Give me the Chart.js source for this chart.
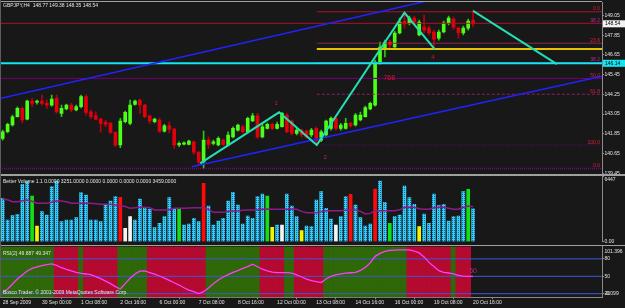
<!DOCTYPE html>
<html>
<head>
<meta charset="utf-8">
<title>GBPJPY,H4</title>
<script src="https://cdn.jsdelivr.net/npm/chart.js@4.4.1/dist/chart.umd.min.js"></script>
<style>
  html, body { margin: 0; padding: 0; background: #181818; }
  body { position: relative; width: 625px; height: 308px; overflow: hidden; }
  canvas { position: absolute; left: 0; }
  .rule { position: absolute; background: #a0a0a0; }
</style>
</head>
<body>
<canvas id="prices" width="625" height="174" style="top:0"></canvas>
<canvas id="volume" width="625" height="68" style="top:176px"></canvas>
<canvas id="rsi" width="625" height="62" style="top:246px"></canvas>
<div class="rule" style="left:0;top:0.5px;width:602px;height:1px"></div>
<div class="rule" style="left:0;top:174px;width:625px;height:1.5px"></div>
<div class="rule" style="left:0;top:244.6px;width:625px;height:1.6px"></div>
<div class="rule" style="left:0;top:0;width:1px;height:297px;background:#5c5c5c"></div>
<script>
// ---- data ----
const timeLabels = ["28 Sep 2009", "30 Sep 00:00", "1 Oct 08:00", "2 Oct 16:00", "6 Oct 00:00", "7 Oct 08:00",
    "8 Oct 16:00", "12 Oct 00:00", "13 Oct 08:00", "14 Oct 16:00", "16 Oct 00:00", "19 Oct 08:00", "20 Oct 16:00"];
const timeTickBars = [0, 8, 16, 24, 32, 40, 48, 56, 64, 72, 80, 88, 96];
const priceTicks = [139.45, 140.65, 141.85, 143.05, 144.25, 145.45, 146.65, 147.85, 149.05];

const opens = [141.58, 141.98, 142.39, 142.89, 143.40, 142.75, 143.84, 143.77, 143.84, 143.70,
    143.60, 144.01, 143.10, 143.36, 143.60, 143.30, 143.50, 144.11, 143.19, 142.95,
    142.75, 142.55, 142.49, 141.94, 141.17, 142.59, 142.49, 143.64, 143.91, 143.60,
    142.95, 142.59, 142.69, 142.02, 142.34, 142.14, 141.17, 141.23, 141.21, 141.37,
    140.73, 140.15, 141.47, 141.27, 141.17, 141.47, 141.17, 141.67, 142.08, 142.28,
    141.98, 142.63, 142.95, 141.67, 142.18, 142.43, 142.18, 142.28, 142.99, 142.63,
    141.88, 142.08, 142.02, 141.78, 142.18, 141.47, 141.78, 142.18, 142.79, 142.18,
    142.18, 142.49, 142.39, 142.69, 142.89, 143.36, 143.60, 146.22, 147.07, 147.43,
    147.13, 147.98, 148.71, 148.59, 148.89, 147.86, 148.34, 148.28, 148.04, 147.67,
    148.04, 148.59, 148.83, 148.28, 147.98, 148.28, 148.77];
const highs = [142.08, 142.51, 142.99, 143.50, 143.48, 143.91, 144.01, 143.91, 144.21, 143.91,
    144.21, 144.21, 143.60, 143.66, 143.70, 143.60, 144.21, 144.21, 143.30, 143.19,
    142.79, 142.69, 142.57, 141.98, 142.79, 143.24, 143.91, 143.91, 143.97, 143.64,
    142.99, 142.81, 142.79, 142.43, 142.57, 142.18, 141.37, 141.37, 141.47, 141.41,
    140.80, 142.02, 141.67, 141.47, 141.67, 141.53, 141.98, 142.28, 142.45, 142.39,
    142.87, 143.10, 143.10, 142.49, 142.51, 142.51, 142.57, 143.16, 143.08, 142.69,
    142.18, 142.14, 142.08, 142.18, 142.28, 142.08, 142.69, 142.89, 142.87, 142.49,
    142.79, 142.57, 143.10, 143.18, 143.54, 143.78, 146.34, 147.43, 147.55, 147.55,
    148.10, 148.89, 149.21, 149.01, 149.01, 148.77, 149.07, 148.40, 148.16, 148.16,
    148.71, 149.01, 148.95, 148.34, 148.40, 148.83, 149.38];
const lows = [141.47, 141.90, 142.32, 142.87, 142.51, 142.69, 143.50, 143.66, 143.60, 143.40,
    143.54, 143.11, 142.89, 143.30, 143.19, 143.24, 143.42, 142.99, 142.79, 142.69,
    141.96, 142.28, 141.88, 141.07, 141.01, 142.51, 142.39, 143.60, 143.10, 142.83,
    142.49, 142.51, 141.94, 141.96, 141.90, 140.97, 141.07, 141.17, 141.17, 140.60,
    139.95, 139.77, 140.97, 141.17, 141.11, 141.14, 141.11, 141.61, 142.02, 141.88,
    141.90, 142.59, 141.58, 141.61, 142.14, 142.11, 142.14, 142.26, 141.90, 141.78,
    141.78, 141.67, 141.59, 141.67, 141.17, 141.37, 141.67, 142.08, 142.08, 142.08,
    142.14, 142.26, 142.32, 142.63, 142.87, 143.30, 143.54, 146.09, 146.52, 147.07,
    147.07, 147.92, 148.28, 148.47, 148.53, 147.80, 147.98, 147.86, 147.01, 147.55,
    147.98, 148.47, 148.22, 147.67, 147.86, 148.16, 148.35];
const closes = [141.98, 142.43, 142.89, 143.40, 142.69, 143.84, 143.70, 143.84, 143.70, 143.60,
    143.97, 143.19, 143.40, 143.60, 143.30, 143.50, 144.11, 143.16, 142.89, 142.75,
    142.49, 142.43, 141.94, 141.17, 142.63, 143.16, 143.60, 143.84, 143.60, 142.89,
    142.63, 142.75, 142.02, 142.34, 142.14, 141.17, 141.27, 141.31, 141.41, 140.73,
    140.15, 141.47, 141.21, 141.37, 141.58, 141.21, 141.78, 142.18, 142.39, 141.98,
    142.79, 142.95, 141.67, 142.28, 142.43, 142.18, 142.43, 143.10, 141.98, 141.88,
    142.08, 141.78, 141.67, 142.08, 141.47, 141.98, 142.63, 142.79, 142.18, 142.39,
    142.49, 142.34, 142.99, 142.99, 143.44, 143.70, 146.22, 147.13, 147.43, 147.25,
    147.98, 148.65, 148.53, 148.89, 148.65, 148.65, 148.16, 147.98, 147.61, 148.04,
    148.59, 148.89, 148.34, 147.98, 148.28, 148.71, 148.54];

// objects drawn on the price window (bar index, price)
const zigzagBar = [40.3, 56.4, 64.1, 82.0, 88.2];
const zigzagPrice = [140.06, 143.16, 141.17, 149.21, 146.99];
const projectionBar = [96.0, 113.1];
const projectionPrice = [149.33, 146.09];
const channelUpperBar = [-0.55, 89.0];
const channelUpperPrice = [144.00, 150.09];
const channelLowerBar = [38.6, 122.3];
const channelLowerPrice = [139.85, 145.36];
const fibStartBar = 64.1;
const fibNames = ["0.0", "23.6", "38.2", "50.0", "61.8", "100.0"];
const fibPrices = [149.27, 147.36, 146.18, 145.22, 144.26, 141.17];
const wideFibNames = ["38.2", "", "0.0"];
const wideFibPrices = [148.57, 145.22, 139.75];
const cyanLevel = 146.14;
const yellowLevel = 147.01;
const markText = ["1", "2", "4", "768", "\u2605"];
const markBar = [55.8, 65.8, 87.8, 78.9, 79.0];
const markPrice = [143.69, 140.44, 146.52, 145.24, 147.37];

// Better Volume
const volumes = [4286, 2143, 2571, 2703, 5670, 5934, 4516, 1549, 2967, 2637,
    5439, 6000, 1978, 2143, 2143, 2373, 4846, 4615, 2143, 2143,
    1978, 3626, 4022, 4450, 4385, 1319, 2472, 2143, 4220, 3395,
    3198, 1385, 1813, 2472, 4352, 3297, 3198, 1648, 1747, 2308,
    1978, 5769, 3527, 1648, 2044, 2308, 4022, 4879, 3626, 1747,
    2538, 2308, 4450, 4714, 4516, 1418, 1648, 1648, 4714, 3527,
    2472, 1088, 1549, 1484, 4121, 4945, 3297, 2242, 1648, 2472,
    4450, 4681, 3626, 2373, 1549, 1747, 5209, 6000, 3890, 1813,
    2472, 2637, 5506, 4352, 3692, 1484, 2736, 1813, 4714, 3560,
    3692, 2044, 2472, 2538, 4945, 5176, 3251];
// n normal, r climax up, w climax down, g churn, y low volume
const volumeKind = ("nnnnnngynn" + "nnnnnnnnnn" + "nnnnrwwnnn" + "nnnnnngnnn" + "nrnnnnnnnn" +
    "nnnngynwnn" + "nynnnnnnwn" + "nrnnnnrnng" + "nnnnnynnnn" + "nnnnngn").split("");
const volumeAvg = [4223, 4150, 3956, 3956, 4050, 4124, 4000, 3798, 3798, 3798,
    3900, 4025, 4025, 3950, 3798, 3798, 3798, 3798, 3798, 3760,
    3699, 3699, 3699, 3620, 3560, 3480, 3303, 3350, 3402, 3402,
    3350, 3135, 3135, 3135, 3135, 3303, 3303, 3303, 3330, 3363,
    3363, 3363, 3200, 2908, 2908, 2908, 2980, 3036, 3036, 3100,
    3135, 3135, 3135, 3200, 3234, 3220, 3204, 3204, 3204, 3204,
    3204, 3000, 2868, 2868, 2868, 2950, 3066, 3066, 3066, 3066,
    3100, 3135, 3135, 3000, 2740, 2800, 3066, 3066, 3066, 3066,
    3066, 3150, 3402, 3402, 3402, 3250, 3204, 3204, 3350, 3402,
    3402, 3300, 3204, 3204, 3400, 3531, 3459];
const volumeMax = 6447;

// RSI(2)
const rsi = [22.2, 28.0, 36.6, 45.3, 52.3, 59.2, 63.5, 66.1, 68.4, 70.3,
    71.4, 68.7, 64.8, 61.8, 59.2, 56.9, 55.0, 54.0, 52.8, 49.5,
    46.0, 41.8, 37.3, 32.3, 28.0, 37.3, 46.7, 54.0, 58.9, 59.2,
    56.4, 53.6, 50.5, 46.7, 42.9, 38.9, 34.9, 30.2, 26.2, 23.4,
    20.1, 23.4, 29.7, 37.0, 43.6, 48.8, 53.0, 56.6, 59.9, 63.5,
    66.8, 71.0, 66.5, 62.2, 59.5, 57.1, 56.4, 56.2, 56.2, 55.6,
    52.6, 48.8, 45.3, 42.7, 41.0, 39.2, 45.3, 50.0, 52.3, 54.3,
    55.4, 56.1, 56.8, 60.1, 65.3, 73.1, 84.4, 89.6, 93.1, 94.8,
    95.3, 95.7, 95.7, 95.7, 93.4, 90.4, 83.5, 74.0, 66.7, 59.7,
    56.9, 55.7, 54.0, 51.4, 50.2, 49.7, 49.887];
const rsiSignalLast = 49.347;
// U rising zone (green), D falling zone (red), - none
const rsiZone = ("UUUUUUUUUUU" + "DDDDD" + "U" + "DDDDDDD" + "UUUUUU" + "DDDDDDDDDDDD" + "UUUUUUUUUUU" +
    "DDDDD" + "UU" + "DDDDDD" + "UUUUUUUUUUUUUUUUU" + "DDDDDDDDD" + "U" + "DDD" + "-").split("");
const rsiLevels = [20, 50, 80];
const rsiTop = 101.396;
const rsiBottomText = "-0.099";

// ---- layout ----
const FONT = '"Liberation Sans", Arial, sans-serif';
const TEXT = "#e4e4e4";
const GRID = "#8a8a8a";
const AXIS_W = 23;
const X_MIN = -0.551;
const X_MAX = 122.306;
const RSI_MIN = 13.78;
const barIndex = opens.map((_, i) => i);

function xScale() {
    return { type: "linear", min: X_MIN, max: X_MAX, offset: false, display: false };
}

function rightAxis(min, max, values, label) {
    return {
        position: "right", min: min, max: max, beginAtZero: false,
        afterFit: s => { s.width = AXIS_W; s.paddingTop = 0; s.paddingBottom = 0; },
        afterBuildTicks: s => { s.ticks = values.map(value => ({ value })); },
        ticks: { color: TEXT, font: { size: 5, family: FONT }, padding: 0.5, callback: label },
        grid: { drawOnChartArea: false, tickLength: 2, color: GRID },
        border: { color: GRID, dash: [1, 1] }
    };
}

function path(xs, ys, color, width, dash, order) {
    return {
        type: "line",
        data: xs.map((x, k) => ({ x: x, y: ys[k] })),
        borderColor: color, borderWidth: width, borderDash: dash || [],
        pointRadius: 0, tension: 0, fill: false, order: order
    };
}

function dots(ctx, base, dot) {
    const c = document.createElement("canvas");
    c.width = 2; c.height = 2;
    const g = c.getContext("2d");
    g.fillStyle = base; g.fillRect(0, 0, 2, 2);
    g.fillStyle = dot; g.fillRect(0, 0, 1, 1);
    return ctx.createPattern(c, "repeat");
}

const common = {
    responsive: false,
    animation: false,
    events: [],
    plugins: { legend: { display: false }, tooltip: { enabled: false } }
};

// ---- price window ----
const isUp = i => closes[i] >= opens[i];
const fibStyle = {
    "0.0": ["#b0102a", []], "23.6": ["#8c2848", []], "38.2": ["#800080", []],
    "50.0": ["#700070", []], "61.8": ["#902060", [3, 2]], "100.0": ["#800080", [1, 2]]
};
const wideStyle = [["#b0102a", []], ["#700070", []], ["#800080", [1, 1]]];
const markColor = ["#e01030", "#b02090", "#e01030", "#e01030", "#e01030"];
const markSize = [6, 6, 6, 7, 7];

const levelSets = [];
fibPrices.forEach((p, k) => {
    const st = fibStyle[fibNames[k]];
    levelSets.push(path([fibStartBar, X_MAX], [p, p], st[0], 1, st[1], 6));
});
wideFibPrices.forEach((p, k) => {
    levelSets.push(path([X_MIN, X_MAX], [p, p], wideStyle[k][0], k === 2 ? 1.5 : 1, wideStyle[k][1], 6));
});
levelSets.push(path([fibStartBar, X_MAX], [yellowLevel, yellowLevel], "#e6c200", 2, [], 5));
levelSets.push(path([X_MIN, X_MAX], [cyanLevel, cyanLevel], "#12e6f0", 2, [], 4));

const priceOverlay = {
    id: "priceOverlay",
    afterDraw(chart) {
        const { ctx, chartArea: area, scales: { x, y } } = chart;
        ctx.save();
        ctx.font = "5px " + FONT;
        ctx.textAlign = "right";
        ctx.textBaseline = "alphabetic";
        fibNames.forEach((name, k) => {
            ctx.fillStyle = name === "38.2" ? "#b0309a" : "#d8203c";
            ctx.fillText(name, area.right - 2, y.getPixelForValue(fibPrices[k]) - 1.5);
        });
        wideFibNames.forEach((name, k) => {
            if (!name) return;
            ctx.fillStyle = name === "38.2" ? "#b0309a" : "#d8203c";
            ctx.fillText(name, area.right - 2, y.getPixelForValue(wideFibPrices[k]) - 1.5);
        });
        ctx.textAlign = "center";
        ctx.textBaseline = "middle";
        markText.forEach((t, k) => {
            ctx.font = markSize[k] + "px " + FONT;
            ctx.fillStyle = markColor[k];
            ctx.fillText(t, x.getPixelForValue(markBar[k]), y.getPixelForValue(markPrice[k]));
        });
        ctx.font = "5px " + FONT;
        ctx.textAlign = "left";
        ctx.fillStyle = TEXT;
        const last = opens.length - 1;
        ctx.fillText("GBPJPY,H4  " + opens[last].toFixed(2) + " " + highs[last].toFixed(2) + " " +
            lows[last].toFixed(2) + " " + closes[last].toFixed(2), 3, 6);
        [[closes[last], "#f2f2f2"], [cyanLevel, "#12e6f0"]].forEach(([v, bg]) => {
            const py = y.getPixelForValue(v);
            ctx.fillStyle = bg;
            ctx.fillRect(area.right + 1, py - 3.5, 22, 7);
            ctx.fillStyle = "#000";
            ctx.fillText(v.toFixed(2), area.right + 3, py + 0.3);
        });
        ctx.restore();
    }
};

new Chart(document.getElementById("prices"), {
    type: "bar",
    data: {
        datasets: [
            {
                type: "bar", grouped: false, order: 20, barThickness: 1,
                data: barIndex.map(i => ({ x: i, y: [lows[i], highs[i]] })),
                backgroundColor: c => isUp(c.dataIndex) ? "#2cc812" : "#b8000e"
            },
            {
                type: "bar", grouped: false, order: 19, barThickness: 3, minBarLength: 1,
                data: barIndex.map(i => ({ x: i, y: [opens[i], closes[i]] })),
                backgroundColor: c => isUp(c.dataIndex) ? "#4cff16" : "#e2000c"
            },
            ...levelSets,
            path(channelUpperBar, channelUpperPrice, "#2222ff", 1.5, [], 3),
            path(channelLowerBar, channelLowerPrice, "#2222ff", 1.5, [], 3),
            path(zigzagBar, zigzagPrice, "#22e0b4", 2, [], 1),
            path(projectionBar, projectionPrice, "#22e0b4", 2, [], 1)
        ]
    },
    options: {
        ...common,
        layout: { padding: { top: 2, bottom: 0.5, left: 0, right: 0 } },
        scales: {
            x: xScale(),
            y: rightAxis(139.44, 149.866, priceTicks, v => v.toFixed(2))
        }
    },
    plugins: [priceOverlay]
});

// ---- volume window ----
const volCanvas = document.getElementById("volume");
const volColors = {
    n: dots(volCanvas.getContext("2d"), "#34d2e6", "#1c5ad2"),
    r: "#ff0a0a", w: "#f4f4f4", g: "#12e012", y: "#f4f400"
};

const volumeOverlay = {
    id: "volumeOverlay",
    afterDraw(chart) {
        const { ctx, chartArea: area } = chart;
        const last = volumes.length - 1;
        ctx.save();
        ctx.font = "5px " + FONT;
        ctx.textBaseline = "middle";
        ctx.textAlign = "left";
        ctx.fillStyle = TEXT;
        ctx.fillText("Better Volume 1.1 0.0000 " + volumes[last].toFixed(4) +
            " 0.0000 0.0000 0.0000 0.0000 " + volumeAvg[last].toFixed(4), 3, 6);
        ctx.fillText(String(volumeMax), area.right + 2.5, area.top + 3);
        ctx.fillText("0.00", area.right + 2.5, area.bottom - 0.5);
        ctx.restore();
    }
};

new Chart(volCanvas, {
    type: "bar",
    data: {
        datasets: [
            {
                type: "bar", grouped: false, order: 10, barThickness: 3,
                data: barIndex.map(i => ({ x: i, y: volumes[i] })),
                backgroundColor: c => volColors[volumeKind[c.dataIndex]]
            },
            path(barIndex, volumeAvg, "#8c1a8c", 1.5, [], 1)
        ]
    },
    options: {
        ...common,
        layout: { padding: { top: 0.5, bottom: 2.3, left: 0, right: 0 } },
        scales: {
            x: xScale(),
            y: rightAxis(0, volumeMax, [0, volumeMax], () => "")
        }
    },
    plugins: [volumeOverlay]
});

// ---- RSI window ----
const rsiCanvas = document.getElementById("rsi");
const zoneColors = { U: "#2e6808", D: "#b40a30" };

const rsiOverlay = {
    id: "rsiOverlay",
    afterDraw(chart) {
        const { ctx, chartArea: area, scales: { x, y } } = chart;
        const last = rsi.length - 1;
        ctx.save();
        ctx.font = "5px " + FONT;
        ctx.textBaseline = "middle";
        ctx.textAlign = "left";
        ctx.fillStyle = TEXT;
        ctx.fillText("RSI(2) " + rsi[last].toFixed(3) + " " + rsiSignalLast.toFixed(3), 3, 7.3);
        ctx.fillText("Bosco Trader. \u00a9 2001-2009 MetaQuotes Software Corp.", 3, area.bottom - 4.6);
        ctx.fillText(String(rsiTop), area.right + 2.5, area.top + 4.8);
        ctx.fillText(rsiBottomText, area.right + 2.5, area.bottom - 3.6);
        ctx.font = "7px " + FONT;
        ctx.textAlign = "center";
        ctx.fillStyle = "#c02088";
        ctx.fillText("50", x.getPixelForValue(last), y.getPixelForValue(59.1));
        ctx.restore();
    }
};

new Chart(rsiCanvas, {
    type: "bar",
    data: {
        datasets: [
            {
                type: "bar", grouped: false, order: 20, barThickness: 5,
                data: barIndex.filter(i => rsiZone[i] !== "-").map(i => ({ x: i, y: [RSI_MIN, rsiTop], z: rsiZone[i] })),
                backgroundColor: c => zoneColors[c.raw.z]
            },
            ...rsiLevels.map(v => path([X_MIN, X_MAX], [v, v], "#3a5ad8", 1, [], 5)),
            path(barIndex, rsi, "#ff3cff", 1.3, [], 1)
        ]
    },
    options: {
        ...common,
        layout: { padding: { top: 0.5, bottom: 0, left: 0, right: 0 } },
        scales: {
            x: {
                type: "linear", min: X_MIN, max: X_MAX, offset: false,
                afterFit: s => { s.height = 10.7; s.paddingLeft = 0; s.paddingRight = 0; },
                afterBuildTicks: s => { s.ticks = timeTickBars.map(value => ({ value })); },
                ticks: {
                    color: TEXT, font: { size: 5, family: FONT }, align: "start",
                    maxRotation: 0, autoSkip: false, padding: 0.5,
                    callback: (v, k) => timeLabels[k]
                },
                grid: { drawOnChartArea: false, tickLength: 2, color: GRID },
                border: { color: GRID }
            },
            y: rightAxis(RSI_MIN, rsiTop, rsiLevels, v => String(v))
        }
    },
    plugins: [rsiOverlay]
});
</script>
</body>
</html>
